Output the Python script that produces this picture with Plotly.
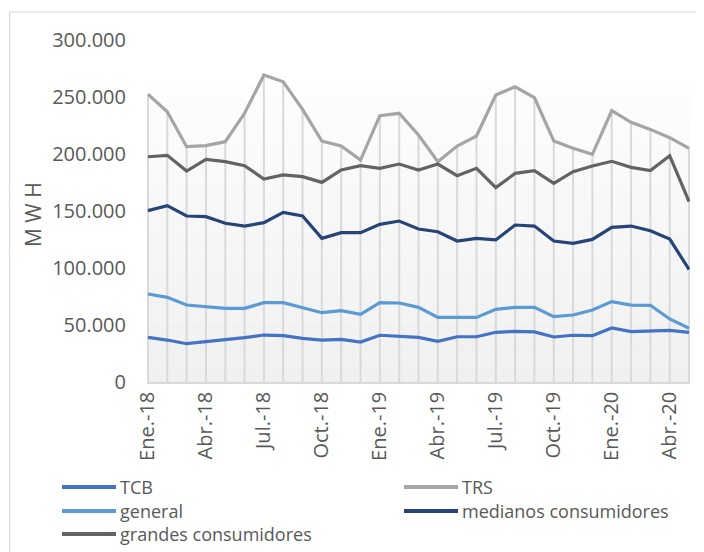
import plotly.graph_objects as go

months = ["Ene.-18", "Feb.-18", "Mar.-18", "Abr.-18", "May.-18", "Jun.-18", "Jul.-18", "Ago.-18",
          "Sep.-18", "Oct.-18", "Nov.-18", "Dic.-18", "Ene.-19", "Feb.-19", "Mar.-19", "Abr.-19",
          "May.-19", "Jun.-19", "Jul.-19", "Ago.-19", "Sep.-19", "Oct.-19", "Nov.-19", "Dic.-19",
          "Ene.-20", "Feb.-20", "Mar.-20", "Abr.-20", "May.-20"]
tick_labels = months[::3]

tcb = [39200, 36800, 33600, 35400, 36600, 38900, 41200, 40600, 38300, 36800, 37400, 35100,
       41000, 40400, 39200, 35700, 39700, 39700, 43600, 44400, 43900, 39500, 41000, 40600,
       47400, 44200, 44400, 45300, 43600]
trs = [252400, 237000, 206400, 207300, 210800, 235700, 269300, 263400, 239200, 211400, 207000,
       194700, 233600, 235700, 216700, 193300, 207000, 215800, 251800, 259000, 249400, 211400,
       205000, 199700, 238000, 227800, 221600, 214300, 205000]
general = [77200, 74300, 67500, 65800, 64600, 64600, 69600, 69600, 65500, 60800, 62600, 59400,
           69600, 69300, 65500, 56700, 56700, 56700, 63700, 65500, 65500, 57300, 58800, 63200,
           70500, 67500, 67300, 55300, 47100]
medianos = [150300, 154700, 145600, 145000, 139200, 136800, 139800, 148800, 145600, 126000,
            131000, 131000, 138300, 141200, 134200, 131800, 123700, 126000, 124600, 137700,
            136800, 123700, 121600, 125100, 135700, 136800, 132700, 125400, 98800]
grandes = [197600, 198800, 185000, 195300, 193300, 189800, 178000, 181600, 180100, 175100,
           186000, 189800, 187400, 191200, 186000, 191200, 181000, 187400, 170500, 183000,
           185400, 174300, 184500, 189500, 193600, 188300, 185400, 198500, 158200]

series = [
    ("TCB", tcb, "#4472C4"),
    ("TRS", trs, "#A5A5A5"),
    ("general", general, "#5B9BD5"),
    ("medianos consumidores", medianos, "#264478"),
    ("grandes consumidores", grandes, "#636363"),
]

TXT = "#595959"
FONT = "Open Sans"

# page offset (default body margin) and layout geometry in reference pixels
OFF = 8
W, H = 704 - OFF, 552 - OFF
L, R, T, B = 147, 690, 40, 382


def px(x):
    return (x - L) / (R - L)


def py(y):
    return (B - y) / (B - T)


fig = go.Figure()

# drop lines from the top series to the axis
fig.add_trace(go.Scatter(
    x=months, y=trs, mode="markers",
    marker=dict(size=1, color="rgba(0,0,0,0)"),
    error_y=dict(type="data", symmetric=False, array=[0] * len(trs), arrayminus=trs,
                 color="#d9d9d9", thickness=2, width=0),
    hoverinfo="skip", showlegend=False,
))

for name, vals, color in series:
    fig.add_trace(go.Scatter(
        x=months, y=vals, mode="lines", name=name,
        line=dict(color=color, width=3.2), showlegend=False,
    ))

shapes = []
# gradient background in plot area
top = py(85)
n = 40
for i in range(n):
    f0 = i / n
    f1 = (i + 1) / n
    t = (i + 0.5) / n
    c = int(round(240 + (253 - 240) * t))
    shapes.append(dict(type="rect", xref="paper", yref="paper", x0=0, x1=1,
                       y0=top * f0, y1=top * f1, line=dict(width=0),
                       fillcolor=f"rgb({c},{c},{c})", layer="below"))
# outer chart border (left and top)
shapes.append(dict(type="line", xref="paper", yref="paper", x0=px(9.5), x1=px(9.5),
                   y0=py(12), y1=py(560), line=dict(color="#d9d9d9", width=1.2)))
shapes.append(dict(type="line", xref="paper", yref="paper", x0=px(9.5), x1=px(720),
                   y0=py(12), y1=py(12), line=dict(color="#d9d9d9", width=1.2)))

annotations = []
# custom legend
legend_pos = [
    ("TCB", "#4472C4", 62, 116, 487),
    ("general", "#5B9BD5", 62, 116, 511),
    ("grandes consumidores", "#636363", 62, 116, 534),
    ("TRS", "#A5A5A5", 404, 458, 487),
    ("medianos consumidores", "#264478", 404, 458, 511),
]
for name, color, x0, x1, y in legend_pos:
    shapes.append(dict(type="line", xref="paper", yref="paper", x0=px(x0), x1=px(x1),
                       y0=py(y), y1=py(y), line=dict(color=color, width=4)))
    annotations.append(dict(xref="paper", yref="paper", x=px(x1 + 2), y=py(y),
                            xanchor="left", yanchor="middle", showarrow=False,
                            text=name, font=dict(family=FONT, size=18, color=TXT)))

# y axis title
annotations.append(dict(xref="paper", yref="paper", x=px(33), y=py(215),
                        xanchor="center", yanchor="middle", showarrow=False,
                        text="M W H", textangle=-90,
                        font=dict(family=FONT, size=21, color=TXT)))

fig.update_layout(
    width=W, height=H,
    margin=dict(l=L - OFF, r=(W + OFF) - R, t=T - OFF, b=(H + OFF) - B, pad=0),
    paper_bgcolor="white", plot_bgcolor="white",
    separators=",.",
    font=dict(family=FONT, size=18, color=TXT),
    shapes=shapes, annotations=annotations,
    xaxis=dict(
        type="category", range=[-0.05, 28.05],
        tickmode="array", tickvals=tick_labels, ticktext=tick_labels,
        tickangle=-90, showgrid=False, zeroline=False,
        showline=True, linecolor="#d9d9d9", linewidth=1.5,
        ticks="", tickfont=dict(family=FONT, size=20, color=TXT),
    ),
    yaxis=dict(
        range=[0, 300000], tickmode="linear", tick0=0, dtick=50000,
        tickformat=",d", showgrid=False, zeroline=False, showline=False,
        ticks="", ticklabelstandoff=20,
        tickfont=dict(family=FONT, size=20, color=TXT),
    ),
)

fig.write_html("out.html")
